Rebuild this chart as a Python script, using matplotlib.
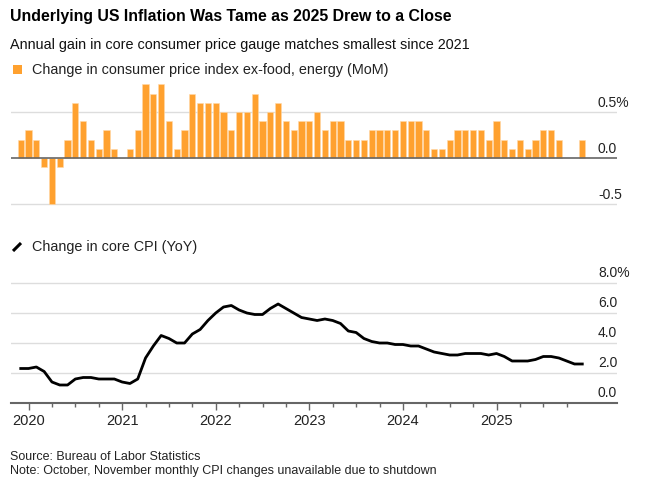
import numpy as np
import matplotlib
matplotlib.use("Agg")
import matplotlib.pyplot as plt
from matplotlib.patches import Rectangle
from matplotlib.lines import Line2D

# Months Dec 2019 .. Dec 2025
months = (["2019-12"] + [f"{y}-{m:02d}" for y in range(2020, 2026) for m in range(1, 13)])

mom = [0.2,
       0.3, 0.2, -0.1, -0.5, -0.1, 0.2, 0.6, 0.4, 0.2, 0.1, 0.3, 0.1,
       0.0, 0.1, 0.3, 0.8, 0.7, 0.8, 0.4, 0.1, 0.3, 0.7, 0.6, 0.6,
       0.6, 0.5, 0.3, 0.5, 0.5, 0.7, 0.4, 0.5, 0.6, 0.4, 0.3, 0.4,
       0.4, 0.5, 0.3, 0.4, 0.4, 0.2, 0.2, 0.2, 0.3, 0.3, 0.3, 0.3,
       0.4, 0.4, 0.4, 0.3, 0.1, 0.1, 0.2, 0.3, 0.3, 0.3, 0.3, 0.2,
       0.4, 0.2, 0.1, 0.2, 0.1, 0.2, 0.3, 0.3, 0.2, np.nan, np.nan, 0.2]

yoy = [2.3,
       2.3, 2.4, 2.1, 1.4, 1.2, 1.2, 1.6, 1.7, 1.7, 1.6, 1.6, 1.6,
       1.4, 1.3, 1.6, 3.0, 3.8, 4.5, 4.3, 4.0, 4.0, 4.6, 4.9, 5.5,
       6.0, 6.4, 6.5, 6.2, 6.0, 5.9, 5.9, 6.3, 6.6, 6.3, 6.0, 5.7,
       5.6, 5.5, 5.6, 5.5, 5.3, 4.8, 4.7, 4.3, 4.1, 4.0, 4.0, 3.9,
       3.9, 3.8, 3.8, 3.6, 3.4, 3.3, 3.2, 3.2, 3.3, 3.3, 3.3, 3.2,
       3.3, 3.1, 2.8, 2.8, 2.8, 2.9, 3.1, 3.1, 3.0, np.nan, 2.6, 2.6]

year_labels = ["2020", "2021", "2022", "2023", "2024", "2025"]
top_ticks = [-0.5, 0.0, 0.5]
top_tick_labels = ["-0.5", "0.0", "0.5%"]
bot_ticks = [0, 2, 4, 6, 8]
bot_tick_labels = ["0.0", "2.0", "4.0", "6.0", "8.0%"]

ORANGE = "#FFA12F"
GRID = "#DDDDDD"
AXIS = "#666666"
FONT = "Liberation Sans"

W, H = 669, 483
fig = plt.figure(figsize=(W / 100, H / 100), dpi=100)

def px_axes(x0, y0, x1, y1):
    return fig.add_axes([x0 / W, 1 - y1 / H, (x1 - x0) / W, (y1 - y0) / H])

x = np.arange(len(months))
xlim = (-1.25, 76.45)

# ---------- top panel ----------
ax1 = px_axes(11, 80, 617, 206)
ax1.set_xlim(*xlim)
ax1.set_ylim((158 - 206) / 92, (158 - 80) / 92)
for t in [-0.5, 0.5]:
    ax1.axhline(t, color=GRID, lw=1, zorder=0)
mom_arr = np.array(mom, dtype=float)
ok = ~np.isnan(mom_arr)
ax1.bar(x[ok], mom_arr[ok], width=0.8, color=ORANGE, edgecolor="#FFD9A8", linewidth=0.4, zorder=2)
ax1.axhline(0, color=AXIS, lw=1.2, zorder=3)
for s in ax1.spines.values():
    s.set_visible(False)
ax1.set_xticks([])
ax1.set_yticks([])
for t, lab in zip(top_ticks, top_tick_labels):
    ax1.text(74.0, t + 0.027, lab, ha="left", va="bottom", fontsize=10, family=FONT, color="#222222")

# ---------- bottom panel ----------
ax2 = px_axes(11, 280, 617, 403)
ax2.set_xlim(*xlim)
ax2.set_ylim(0, (403 - 280) / 15)
for t in [2, 4, 6, 8]:
    ax2.axhline(t, color=GRID, lw=1, zorder=0)
yoy_arr = np.array(yoy, dtype=float)
okl = ~np.isnan(yoy_arr)
ax2.plot(x[okl], yoy_arr[okl], color="black", lw=2, solid_joinstyle="round", zorder=3)
for s in ["top", "right", "left"]:
    ax2.spines[s].set_visible(False)
ax2.spines["bottom"].set_color(AXIS)
ax2.spines["bottom"].set_linewidth(1.5)
ax2.set_yticks([])
major = [1 + 12 * i for i in range(len(year_labels))]
minor = [i for i in range(1, 73, 3) if i not in major]
ax2.set_xticks(major)
ax2.set_xticklabels(year_labels, fontsize=10.5, family=FONT, color="#222222")
ax2.set_xticks(minor, minor=True)
ax2.tick_params(axis="x", which="major", length=5, width=1, color=AXIS, pad=3)
ax2.tick_params(axis="x", which="minor", length=3, width=1, color=AXIS)
for t, lab in zip(bot_ticks, bot_tick_labels):
    ax2.text(74.0, t + 0.18, lab, ha="left", va="bottom", fontsize=10, family=FONT, color="#222222")

# ---------- texts ----------
fig.text(10 / W, 1 - 17 / H, "Underlying US Inflation Was Tame as 2025 Drew to a Close",
         fontsize=11.4, fontweight="bold", family=FONT,
         va="center", ha="left", color="black")
fig.text(10 / W, 1 - 45 / H, "Annual gain in core consumer price gauge matches smallest since 2021",
         fontsize=10.4, family=FONT, va="center", ha="left", color="#111111")

fig.patches.append(Rectangle((13 / W, 1 - 74 / H), 9 / W, 9 / H, transform=fig.transFigure,
                             facecolor=ORANGE, edgecolor="none"))
fig.text(32 / W, 1 - 69.5 / H, "Change in consumer price index ex-food, energy (MoM)",
         fontsize=10.4, family=FONT, va="center", ha="left", color="#222222")

fig.lines.append(Line2D([13 / W, 21 / W], [1 - 251 / H, 1 - 243 / H], transform=fig.transFigure,
                        color="black", lw=2.2, solid_capstyle="butt"))
fig.text(32 / W, 1 - 246.5 / H, "Change in core CPI (YoY)",
         fontsize=10.4, family=FONT, va="center", ha="left", color="#222222")

fig.text(10 / W, 1 - 457 / H, "Source: Bureau of Labor Statistics",
         fontsize=9, family=FONT, va="center", ha="left", color="#222222")
fig.text(10 / W, 1 - 471 / H, "Note: October, November monthly CPI changes unavailable due to shutdown",
         fontsize=9, family=FONT, va="center", ha="left", color="#222222")

fig.savefig("out.png", dpi=100, facecolor="white")
